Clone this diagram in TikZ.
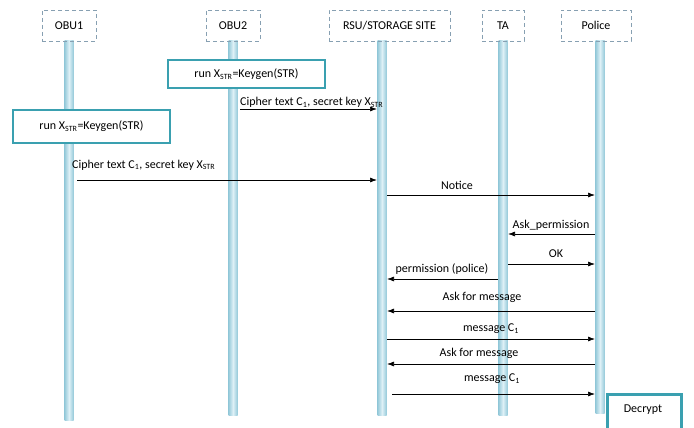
\documentclass[tikz,border=0pt]{standalone}
\usepackage{fontspec}
\setmainfont{Carlito}
\usetikzlibrary{arrows.meta}
\definecolor{hdr}{RGB}{135,160,178}
\definecolor{teal}{RGB}{58,160,176}
\definecolor{lifeD}{RGB}{150,202,218}
\definecolor{lifeL}{RGB}{222,240,246}
\tikzset{
  header/.style={draw=hdr, line width=0.9pt, dash pattern=on 4pt off 3pt, minimum height=31pt, inner sep=0pt, font=\fontsize{12}{14}\selectfont},
  runbox/.style={draw=teal, line width=2.6pt, fill=white, minimum width=157pt, inner sep=0pt, font=\fontsize{12}{14}\selectfont},
  msg/.style={-{Latex[length=7pt,width=5pt]}, line width=0.7pt, black},
  lbl/.style={inner sep=0pt, font=\fontsize{12}{14}\selectfont},
}
\newcommand{\lifebar}[3]{\shade[left color=lifeD, right color=lifeD, middle color=lifeL] (#1-4.5,41) rectangle (#1+4.5,#2);
  \coordinate (#3) at (#1,41);}
\begin{document}
\begin{tikzpicture}[x=1pt,y=-1pt]
\useasboundingbox (0,0) rectangle (694,428);
\fill[white] (0,0) rectangle (694,428);
% lifelines
\lifebar{69}{420}{l1}
\lifebar{233}{415}{l2}
\lifebar{382}{415}{l3}
\lifebar{503}{415}{l4}
\lifebar{600}{413}{l5}
% headers
\node[header, minimum width=54pt] (obu1) at (69,25.5) {OBU1};
\node[header, minimum width=54pt] (obu2) at (233,25.5) {OBU2};
\node[header, minimum width=121pt] (rsu) at (389.5,25.5) {RSU/STORAGE SITE};
\node[header, minimum width=42pt] (ta) at (503,25.5) {TA};
\node[header, minimum width=70pt] (pol) at (596,25.5) {Police};
% run boxes
\node[runbox, minimum height=28pt] (run2) at (246.5,74) {run X\textsubscript{STR}=Keygen(STR)};
\node[runbox, minimum height=33pt] (run1) at (91.5,126.5) {run X\textsubscript{STR}=Keygen(STR)};
% decrypt
\node[draw=teal, line width=2.6pt, fill=white, minimum width=74pt, minimum height=40pt, inner sep=0pt, anchor=north west] (dec) at (606,393) {};
\node[lbl] (dect) at (643,410) {Decrypt};
% message coordinates
\coordinate (a1s) at (240,109); \coordinate (a1e) at (377,109);
\coordinate (a2s) at (77,180); \coordinate (a2e) at (377,180);
\coordinate (a3s) at (387,195); \coordinate (a3e) at (595,195);
\coordinate (a4s) at (595,234); \coordinate (a4e) at (508,234);
\coordinate (a5s) at (508,264); \coordinate (a5e) at (595,264);
\coordinate (a6s) at (498,279); \coordinate (a6e) at (387,279);
\coordinate (a7s) at (595,311); \coordinate (a7e) at (387,311);
\coordinate (a8s) at (387,339); \coordinate (a8e) at (595,339);
\coordinate (a9s) at (595,364); \coordinate (a9e) at (387,364);
\coordinate (a10s) at (392,394); \coordinate (a10e) at (595,394);
\draw[msg] (a1s) -- (a1e);
\draw[msg] (a2s) -- (a2e);
\draw[msg] (a3s) -- (a3e);
\draw[msg] (a4s) -- (a4e);
\draw[msg] (a5s) -- (a5e);
\draw[msg] (a6s) -- (a6e);
\draw[msg] (a7s) -- (a7e);
\draw[msg] (a8s) -- (a8e);
\draw[msg] (a9s) -- (a9e);
\draw[msg] (a10s) -- (a10e);
% labels
\node[lbl, anchor=base west] (t1) at (240,106) {Cipher text C\textsubscript{1}, secret key X\textsubscript{STR}};
\node[lbl, anchor=base west] (t2) at (72,168) {Cipher text C\textsubscript{1}, secret key X\textsubscript{STR}};
\node[lbl] (t3) at (457,185) {Notice};
\node[lbl] (t4) at (551,225) {Ask\_permission};
\node[lbl] (t5) at (556,254) {OK};
\node[lbl] (t6) at (442,269) {permission (police)};
\node[lbl] (t7) at (482,297) {Ask for message};
\node[lbl] (t8) at (491,329) {message C\textsubscript{1}};
\node[lbl] (t9) at (479,353) {Ask for message};
\node[lbl] (t10) at (492,379) {message C\textsubscript{1}};
\end{tikzpicture}
\end{document}
